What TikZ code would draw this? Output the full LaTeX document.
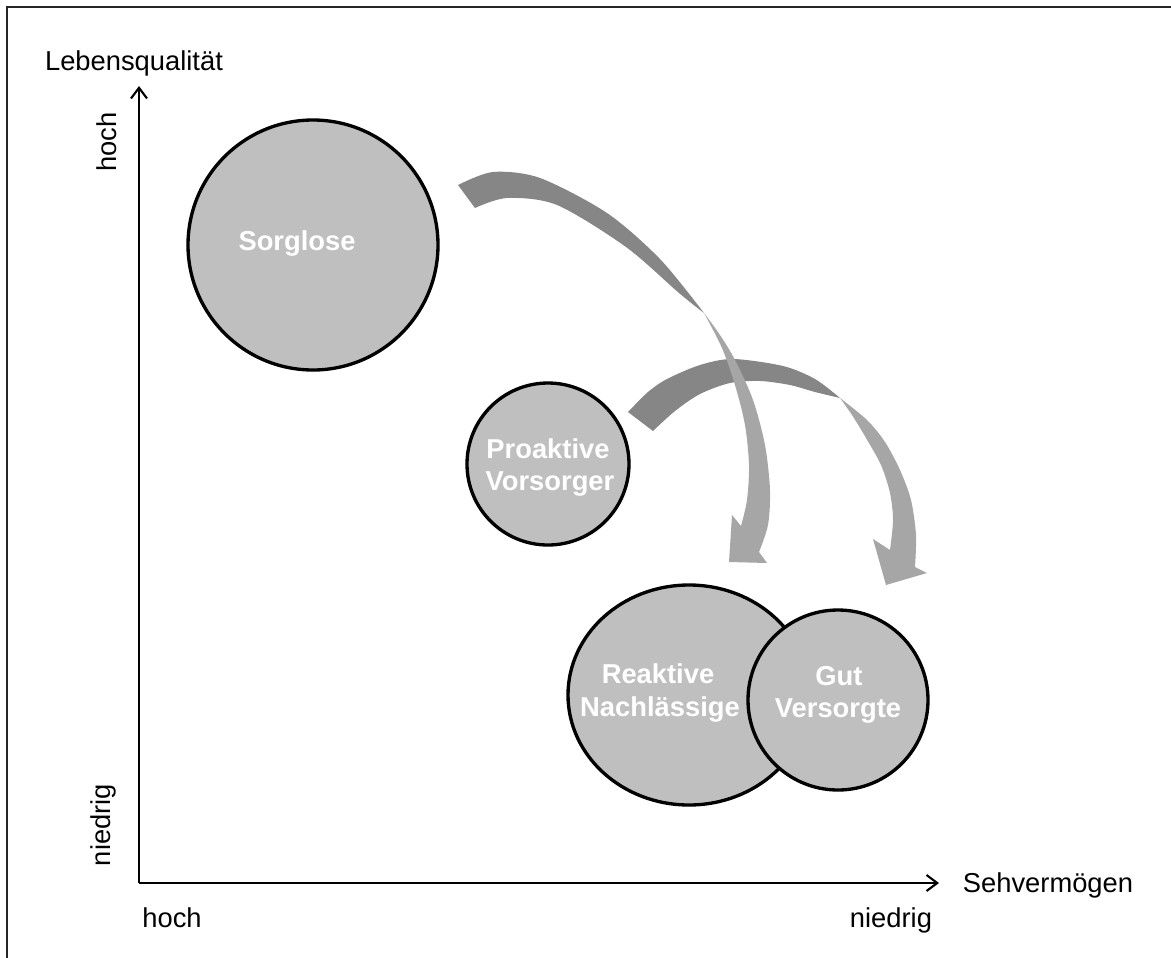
\documentclass[tikz,border=0pt]{standalone}
\usepackage{fontspec}
\setmainfont{Liberation Sans}
\usetikzlibrary{arrows.meta,shapes.geometric}
\definecolor{darkband}{RGB}{134,134,134}
\definecolor{lightband}{RGB}{166,166,166}
\definecolor{bubble}{RGB}{191,191,191}
\begin{document}
\begin{tikzpicture}[x=0.75pt,y=-0.75pt,
  bubblestyle/.style={draw=black,line width=2.5pt,fill=bubble,inner sep=0pt},
  inlabel/.style={font=\fontsize{20.5}{24.75}\selectfont\bfseries,text=white,inner sep=0pt,anchor=base},
  axlabel/.style={font=\fontsize{20.5}{24}\selectfont,inner sep=0pt},
  axisline/.style={line width=1.7pt,-{Straight Barb[length=8pt,width=12pt,line width=1.6pt]}},
  framestyle/.style={line width=1.5pt,draw=black!85}]

\useasboundingbox (0,0) rectangle (1171,957);

% frame (left and top edges visible)
\draw[framestyle] (7,960) -- (7,7) -- (1175,7);

% axes
\coordinate (origin) at (139,883);
\coordinate (ytip) at (139,86);
\coordinate (xtip) at (939,883);
\draw[axisline] (origin) -- (ytip);
\draw[axisline] (origin) -- (xtip);

% axis labels
\node[axlabel,anchor=base] (lq) at (134,70) {Lebensqualität};
\node[axlabel,anchor=base] (sv) at (1048,892) {Sehvermögen};
\node[axlabel,rotate=90] (yhoch) at (107,142) {hoch};
\node[axlabel,rotate=90] (yniedrig) at (103,825) {niedrig};
\node[axlabel,anchor=base] (xhoch) at (172,927) {hoch};
\node[axlabel,anchor=base] (xniedrig) at (891,927) {niedrig};

% arrow 2 (Proaktive -> Gut Versorgte)
\fill[darkband] plot[smooth] coordinates {(628,412) (648,392) (667,379) (700,365) (733,359) (783,366) (815,379) (840,398)}
  -- plot[smooth] coordinates {(840,398) (815,392) (790,385) (760,381) (730,383) (700,394) (675,411) (653,431)} -- cycle;
\fill[lightband] plot[smooth] coordinates {(840,398) (867,420) (885,442) (900,470) (911,500) (916,535) (915,567)}
  -- (927,573) -- (886,585) -- (873,539) -- (890,550)
  -- plot[smooth] coordinates {(890,550) (893,520) (890,493) (881,465) (866,438) (852,415) (840,398)} -- cycle;

% arrow 1 (Sorglose -> Reaktive Nachlässige)
\fill[darkband] plot[smooth] coordinates {(458,185) (493,172) (540,178) (607,213) (660,259) (704,313)}
  -- plot[smooth] coordinates {(704,313) (679,293) (626,247) (557,205) (507,198) (475,208)} -- cycle;
\fill[lightband] plot[smooth] coordinates {(704,313) (720,335) (735,360) (753,400) (765,445) (770,490) (768,525) (759,552)}
  -- (767,563) -- (729,562) -- (732,515) -- (741,526)
  -- plot[smooth] coordinates {(741,526) (747,500) (749,465) (745,425) (735,385) (722,348) (704,313)} -- cycle;

% bubbles
\node[bubblestyle,circle,minimum size=250*0.75pt] (sorglose) at (313,245) {};
\node[bubblestyle,circle,minimum size=162*0.75pt] (proaktiv) at (548,464) {};
\node[bubblestyle,ellipse,minimum width=242*0.75pt,minimum height=220*0.75pt] (reaktiv) at (689,695) {};
\node[bubblestyle,circle,minimum size=180*0.75pt] (gut) at (838,700) {};

% bubble labels
\node[inlabel] (t1) at (297,250) {Sorglose};
\node[inlabel] (t2a) at (548,458) {Proaktive};
\node[inlabel] (t2b) at (550,490) {Vorsorger};
\node[inlabel] (t3a) at (658,683) {Reaktive};
\node[inlabel] (t3b) at (660,716) {Nachlässige};
\node[inlabel] (t4a) at (839,685) {Gut};
\node[inlabel] (t4b) at (838,717) {Versorgte};
\end{tikzpicture}
\end{document}
